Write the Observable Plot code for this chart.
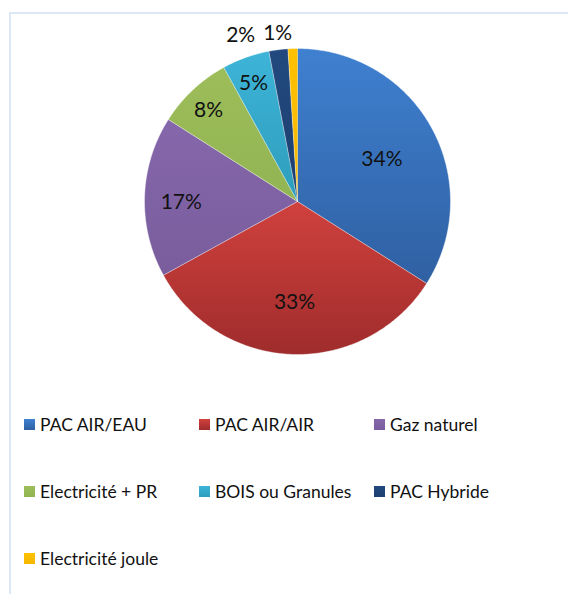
<!DOCTYPE html>
<html>
<head>
<meta charset="utf-8">
<script src="https://cdn.jsdelivr.net/npm/d3@7"></script>
<script src="https://cdn.jsdelivr.net/npm/@observablehq/plot@0.6"></script>
<style>
  html, body { margin: 0; padding: 0; background: #fff; overflow: hidden; }
  #frame {
    position: absolute; left: 9px; top: 12px; width: 620px; height: 620px;
    border-left: 2px solid #dbe7f5; border-top: 2px solid #dbe7f5;
    font-family: Lato, "Open Sans", sans-serif;
  }
  #legend { padding-left: 13px; padding-top: 20px; }
  .row { display: flex; height: 20px; margin-bottom: 47px; align-items: center; }
  .item { display: flex; align-items: center; width: 175px; font-size: 17.5px; color: #111; white-space: nowrap; }
  .sw { width: 11px; height: 11px; margin-right: 5px; flex: none; }
</style>
</head>
<body>
<div id="frame"><div id="chart"></div><div id="legend"></div></div>
<script>
// ---- data ----
const categories = ["PAC AIR/EAU", "PAC AIR/AIR", "Gaz naturel", "Electricité + PR", "BOIS ou Granules", "PAC Hybride", "Electricité joule"];
const shares = [34, 33, 17, 8, 5, 2, 1];
const labels = ["34%", "33%", "17%", "8%", "5%", "2%", "1%"];
const colorsTop = ["#3f80d0", "#d0413d", "#8567ab", "#9dbd5a", "#3db4d8", "#22497f", "#ffc000"];
const colorsBottom = ["#2f60a2", "#9f2c2c", "#795d9c", "#93b453", "#2e9dbb", "#1c406f", "#f5b800"];

// ---- layout ----
const W = 557, H = 380, CX = 286, CY = 187, R = 153;
const total = d3.sum(shares);

const slices = [];
const labelIn = [];
const labelOut = [];
let cum = 0;
shares.forEach((v, i) => {
  const a0 = cum / total * 2 * Math.PI;
  const a1 = (cum + v) / total * 2 * Math.PI;
  cum += v;
  const pts = [{i, x: 0, y: 0}];
  const n = Math.max(2, Math.ceil((a1 - a0) / (Math.PI / 360)));
  for (let k = 0; k <= n; k++) {
    const t = a0 + (a1 - a0) * k / n;
    pts.push({i, x: Math.sin(t), y: Math.cos(t)});
  }
  slices.push(pts);
  const m = (a0 + a1) / 2;
  if (v >= 3) {
    const f = v >= 20 ? 0.63 : v >= 10 ? 0.76 : 0.85;
    labelIn.push({x: f * Math.sin(m), y: f * Math.cos(m), text: labels[i]});
  } else {
    labelOut.push({x: 1.105 * Math.sin(m), y: 1.105 * Math.cos(m), text: labels[i]});
  }
});
// outside labels: avoid overlap, laid out right to left (anchored at their right edge)
labelOut.sort((a, b) => b.x - a.x);
let prevLeft = Infinity;
const estW = 25 / R, gap = 12 / R;
labelOut.forEach(d => {
  d.x = Math.min(d.x, prevLeft - gap);
  prevLeft = d.x - estW;
});

const defsMark = () => {
  const defs = d3.create("svg:defs");
  categories.forEach((c, i) => {
    const g = defs.append("linearGradient").attr("id", "g" + i)
      .attr("x1", 0).attr("y1", 0).attr("x2", 0).attr("y2", 1);
    g.append("stop").attr("offset", "0%").attr("stop-color", colorsTop[i]);
    g.append("stop").attr("offset", "100%").attr("stop-color", colorsBottom[i]);
  });
  return defs.node();
};

const chart = Plot.plot({
  width: W, height: H,
  margin: 0,
  x: {domain: [-CX / R, (W - CX) / R], range: [0, W], axis: null},
  y: {domain: [-(H - CY) / R, CY / R], range: [H, 0], axis: null},
  style: {fontFamily: "Lato, 'Open Sans', sans-serif", background: "white", overflow: "visible"},
  marks: [
    defsMark,
    ...slices.map((pts, i) => Plot.line(pts, {x: "x", y: "y", fill: `url(#g${i})`, stroke: "white", strokeWidth: 0.6, strokeOpacity: 0.7})),
    Plot.text(labelIn, {x: "x", y: "y", text: "text", fontSize: 21, fill: "#111", dy: 4}),
    Plot.text(labelOut, {x: "x", y: "y", text: "text", fontSize: 21, fill: "#111", textAnchor: "end", dy: 1})
  ]
});
document.getElementById("chart").appendChild(chart);

// ---- legend ----
const legend = d3.select("#legend");
const perRow = 3;
for (let r = 0; r < Math.ceil(categories.length / perRow); r++) {
  const row = legend.append("div").attr("class", "row");
  categories.slice(r * perRow, r * perRow + perRow).forEach((c, j) => {
    const i = r * perRow + j;
    const it = row.append("div").attr("class", "item");
    it.append("div").attr("class", "sw")
      .style("background", `linear-gradient(${colorsTop[i]}, ${colorsBottom[i]})`);
    it.append("span").text(c);
  });
}
</script>
</body>
</html>
